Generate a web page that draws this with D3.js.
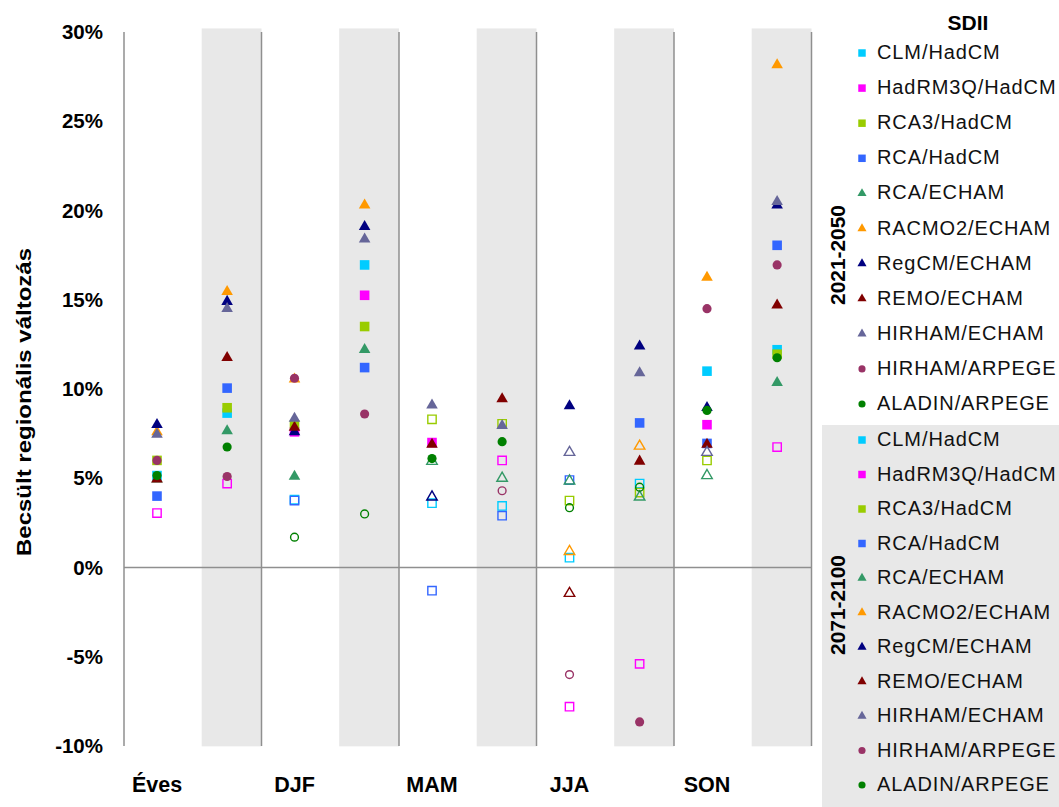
<!DOCTYPE html>
<html><head><meta charset="utf-8">
<script src="https://cdn.jsdelivr.net/npm/d3@7"></script>
<style>
html,body{margin:0;padding:0;background:#fff;}
svg{display:block;}
</style></head>
<body>
<svg id="c" width="1059" height="807"></svg>
<script>
// ---------- DATA ----------
const seasons = ["Éves", "DJF", "MAM", "JJA", "SON"];
const yTicks = [-10, -5, 0, 5, 10, 15, 20, 25, 30];
const periods = ["2021-2050", "2071-2100"];
const models = ["CLM/HadCM", "HadRM3Q/HadCM", "RCA3/HadCM", "RCA/HadCM", "RCA/ECHAM",
  "RACMO2/ECHAM", "RegCM/ECHAM", "REMO/ECHAM", "HIRHAM/ECHAM", "HIRHAM/ARPEGE", "ALADIN/ARPEGE"];
const colors = ["#00CCFF", "#FF00FF", "#99CC00", "#3366FF", "#339966",
  "#FF9900", "#000080", "#800000", "#666699", "#993366", "#008000"];
const shapes = ["square", "square", "square", "square", "triangle",
  "triangle", "triangle", "triangle", "triangle", "circle", "circle"];
// values (%) per model, seasons: Éves, DJF, MAM, JJA, SON
const v2021 = [
  [5.15, 3.8, 3.6, 0.55, 11.0],
  [3.05, 7.6, 7.0, -7.8, 8.0],
  [6.0, 8.0, 8.3, 3.75, 6.0],
  [4.0, 3.75, -1.3, 4.9, 6.95],
  [4.95, 5.1, 5.95, 4.85, 5.15],
  [7.6, 10.55, null, 0.9, 16.25],
  [8.0, 7.6, 3.95, 9.05, 8.95],
  [4.95, 7.85, 6.9, -1.45, 6.9],
  [7.45, 8.35, 9.1, 6.45, 6.45],
  [6.0, 10.6, null, -6.0, 14.5],
  [5.15, 1.7, 6.1, 3.35, 8.8]
];
const v2071 = [
  [8.65, 16.95, 3.45, 4.7, 12.2],
  [4.7, 15.25, 6.0, -5.4, 6.75],
  [8.95, 13.5, 8.05, 4.2, 11.95],
  [10.05, 11.2, 2.9, 8.1, 18.05],
  [7.65, 12.2, 5.0, 3.95, 10.35],
  [15.45, 20.3, null, 6.8, 28.15],
  [14.9, 19.1, null, 12.4, 20.3],
  [11.75, null, 9.45, 5.95, 14.7],
  [14.5, 18.4, 7.95, 10.9, 20.5],
  [5.1, 8.6, 4.3, -8.65, 16.95],
  [6.75, 3.0, 7.05, 4.5, 11.75]
];
// 1 = hollow (open) marker
const open2021 = [
  [0, 1, 1, 1, 0],
  [1, 0, 0, 1, 0],
  [0, 0, 1, 1, 1],
  [0, 1, 1, 1, 0],
  [0, 0, 1, 1, 1],
  [0, 0, 0, 1, 0],
  [0, 0, 1, 0, 0],
  [0, 0, 0, 1, 0],
  [0, 0, 0, 1, 1],
  [0, 0, 0, 1, 0],
  [0, 1, 0, 1, 0]
];
const open2071 = [
  [0, 0, 1, 1, 0],
  [1, 0, 1, 1, 1],
  [0, 0, 1, 1, 0],
  [0, 0, 1, 0, 0],
  [0, 0, 1, 1, 0],
  [0, 0, 0, 1, 0],
  [0, 0, 0, 0, 0],
  [0, 0, 0, 0, 0],
  [0, 0, 0, 0, 0],
  [0, 0, 1, 0, 0],
  [0, 1, 0, 1, 0]
];

// ---------- CHART ----------
const svg = d3.select("#c");
const bandFill = "#e8e8e8";
const lineCol = "#8f8f8f";
const boldFont = "'Liberation Sans', Arial, sans-serif";
const narrowFont = "'Liberation Sans Narrow', 'Arial Narrow', 'Liberation Sans', sans-serif";

const x = d3.scaleBand().domain(seasons).range([124, 811.5]).paddingInner(0).paddingOuter(0);
const bw = x.bandwidth();
const y = d3.scaleLinear().domain([-10, 30]).range([746, 32]);
const subPos = [0.24, 0.75];

// legend grey background (2071-2100 group)
svg.append("rect").attr("x", 822).attr("y", 425).attr("width", 237).attr("height", 382).attr("fill", bandFill);

// grey bands
svg.append("g").selectAll("rect").data(seasons).join("rect")
  .attr("x", d => x(d) + 0.565 * bw)
  .attr("width", 0.435 * bw)
  .attr("y", y(30.2))
  .attr("height", y(-10.02) - y(30.2))
  .attr("fill", bandFill);

// vertical separators
svg.append("g").selectAll("line").data(seasons).join("line")
  .attr("x1", d => x(d) + bw).attr("x2", d => x(d) + bw)
  .attr("y1", y(30)).attr("y2", y(-10))
  .attr("stroke", lineCol).attr("stroke-width", 1.5);

// y axis line
svg.append("line").attr("x1", 124).attr("x2", 124).attr("y1", y(30)).attr("y2", y(-10))
  .attr("stroke", lineCol).attr("stroke-width", 1.5);
// zero line
svg.append("line").attr("x1", 124).attr("x2", 811.5).attr("y1", y(0)).attr("y2", y(0))
  .attr("stroke", lineCol).attr("stroke-width", 1.5);

// y axis labels
const yAxis = d3.axisLeft(y).tickValues(yTicks).tickFormat(d => d + "%").tickSize(0).tickPadding(21);
const gy = svg.append("g").attr("transform", "translate(124,0)").call(yAxis);
gy.select(".domain").remove();
gy.selectAll("text").attr("font-family", boldFont).attr("font-weight", "bold")
  .attr("font-size", 20.5).attr("fill", "#000");

// y title
svg.append("text")
  .attr("transform", "translate(31,402) rotate(-90)")
  .attr("text-anchor", "middle")
  .attr("font-family", narrowFont).attr("font-weight", "bold").attr("font-size", 21)
  .attr("textLength", 308).attr("lengthAdjust", "spacingAndGlyphs")
  .text("Becsült regionális változás");

// category labels
svg.append("g").selectAll("text").data(seasons).join("text")
  .attr("x", d => x(d) + subPos[0] * bw)
  .attr("y", 792)
  .attr("text-anchor", "middle")
  .attr("font-family", boldFont).attr("font-weight", "bold").attr("font-size", 21.5)
  .text(d => d);

// symbols
const symType = {square: d3.symbolSquare, triangle: d3.symbolTriangle, circle: d3.symbolCircle};
const symSize = {square: 92, triangle: 58, circle: 66};
const symSizeOpen = {square: 70, triangle: 48, circle: 48};

function drawPeriod(vals, opens, pIdx) {
  models.forEach((m, i) => {
    const pts = seasons.map((s, j) => ({s, v: vals[i][j], open: opens[i][j]})).filter(d => d.v !== null);
    const g = svg.append("g");
    g.selectAll("path").data(pts).join("path")
      .attr("transform", d => `translate(${x(d.s) + subPos[pIdx] * bw},${y(d.v)})`)
      .attr("d", d => d3.symbol().type(symType[shapes[i]]).size(d.open ? symSizeOpen[shapes[i]] : symSize[shapes[i]])())
      .attr("fill", d => d.open ? "none" : colors[i])
      .attr("stroke", d => d.open ? colors[i] : "none")
      .attr("stroke-width", 1.4);
  });
}
drawPeriod(v2021, open2021, 0);
drawPeriod(v2071, open2071, 1);

// ---------- LEGEND ----------
svg.append("text").attr("x", 968).attr("y", 30).attr("text-anchor", "middle")
  .attr("font-family", boldFont).attr("font-weight", "bold").attr("font-size", 21).text("SDII");

const legSym = {square: 56, triangle: 36, circle: 40};
const legRows = [d3.scaleLinear().domain([0, 10]).range([52, 403]), d3.scaleLinear().domain([0, 10]).range([439, 784])];
const periodCenters = [255, 605];
periods.forEach((p, k) => {
  const g = svg.append("g");
  const rows = g.selectAll("g").data(models).join("g")
    .attr("transform", (d, i) => `translate(0,${legRows[k](i)})`);
  rows.append("path")
    .attr("transform", "translate(862,1)")
    .attr("d", (d, i) => d3.symbol().type(symType[shapes[i]]).size(legSym[shapes[i]])())
    .attr("fill", (d, i) => colors[i]);
  rows.append("text").attr("x", 877).attr("y", 7)
    .attr("font-family", boldFont).attr("font-size", 20).attr("letter-spacing", 0.9).attr("fill", "#111")
    .text(d => d);
  svg.append("text")
    .attr("transform", `translate(845,${periodCenters[k]}) rotate(-90)`)
    .attr("text-anchor", "middle")
    .attr("font-family", narrowFont).attr("font-weight", "bold").attr("font-size", 21)
    .attr("textLength", 100).attr("lengthAdjust", "spacingAndGlyphs")
    .text(p);
});
</script>
</body></html>
